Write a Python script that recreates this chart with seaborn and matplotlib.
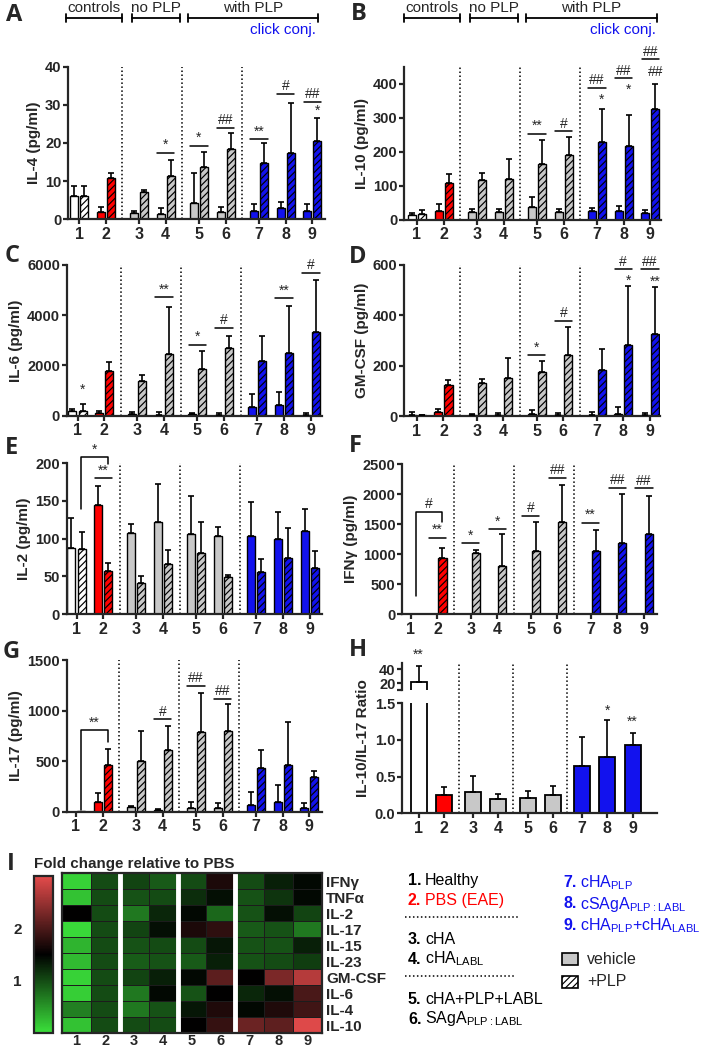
import numpy as np
import pandas as pd
import seaborn as sns
import matplotlib.pyplot as plt
from matplotlib.colors import LinearSegmentedColormap
from matplotlib.patches import Rectangle

# %% --------------------------------------------------------------------
# Data

groups = ['1', '2', '3', '4', '5', '6', '7', '8', '9']
section = [0, 0, 1, 1, 2, 2, 3, 3, 3]

il4_veh = [6.2, 1.8, 1.5, 1.4, 4.3, 1.9, 2.2, 2.9, 2.2]
il4_veh_sd = [2.6, 1.3, 0.7, 1.6, 7.7, 1.2, 1.8, 1.5, 1.8]
il4_plp = [6.0, 10.7, 7.2, 11.4, 13.6, 18.3, 14.8, 17.3, 20.5]
il4_plp_sd = [2.8, 1.3, 0.5, 4.0, 4.1, 4.2, 5.3, 13.3, 6.1]

il10_veh = [13, 26, 21, 21, 37, 21, 25, 25, 19]
il10_veh_sd = [7, 20, 11, 10, 30, 9, 10, 14, 9]
il10_plp = [17, 108, 115, 120, 162, 190, 228, 216, 325]
il10_plp_sd = [10, 27, 23, 57, 73, 52, 97, 91, 75]

il6_veh = [170, 95, 50, 20, 60, 40, 330, 440, 30]
il6_veh_sd = [85, 105, 85, 140, 60, 50, 520, 510, 70]
il6_plp = [200, 1780, 1390, 2470, 1850, 2710, 2170, 2500, 3330]
il6_plp_sd = [260, 345, 220, 1850, 710, 460, 990, 1880, 2080]

gmcsf_veh = [5, 14, 5, 3, 8, 3, 3, 8, 3]
gmcsf_veh_sd = [9, 14, 3, 9, 17, 9, 11, 26, 9]
gmcsf_plp = [2, 124, 130, 152, 176, 242, 183, 284, 324]
gmcsf_plp_sd = [1, 19, 16, 77, 43, 112, 82, 234, 189]

il2_veh = [88, 145, 108, 122, 106, 103, 103, 100, 110]
il2_veh_sd = [39, 25, 11, 51, 51, 12, 46, 36, 29]
il2_plp = [86, 57, 41, 67, 81, 49, 56, 74, 61]
il2_plp_sd = [23, 11, 9, 18, 41, 3, 17, 40, 22]

ifng_veh = [0, 8, 0, 0, 5, 0, 0, 8, 0]
ifng_veh_sd = [0, 0, 0, 0, 0, 0, 0, 0, 0]
ifng_plp = [0, 933, 1027, 810, 1055, 1538, 1055, 1183, 1333]
ifng_plp_sd = [0, 177, 40, 528, 483, 617, 350, 822, 639]

il17_veh = [0, 100, 50, 15, 33, 33, 67, 93, 33]
il17_veh_sd = [0, 83, 8, 10, 60, 50, 126, 172, 50]
il17_plp = [3, 464, 497, 606, 787, 802, 431, 457, 342]
il17_plp_sd = [0, 156, 298, 239, 388, 266, 184, 428, 56]

ratio = [22.3, 0.25, 0.29, 0.195, 0.21, 0.25, 0.645, 0.77, 0.93]
ratio_sd = [22.4, 0.11, 0.22, 0.065, 0.10, 0.12, 0.395, 0.50, 0.17]

# significance marks: (group, level, text)
il4_lines = [(4, 17.4, '*'), (5, 19.3, '*'), (6, 23.9, '##'), (7, 21.0, '**'), (8, 32.8, '#'), (9, 30.7, '##')]
il4_marks = [(9, 28.5, '*')]
il10_lines = [(5, 252, '**'), (6, 260, '#'), (7, 388, '##'), (8, 416, '##'), (9, 472, '##')]
il10_marks = [(7, 352, '*'), (8, 381, '*'), (9, 433, '##')]
il6_lines = [(4, 4710, '**'), (5, 2830, '*'), (6, 3490, '#'), (8, 4670, '**'), (9, 5700, '#')]
il6_marks = [(1, 1050, '*')]
gmcsf_lines = [(5, 242, '*'), (6, 377, '#'), (8, 583, '#'), (9, 583, '##')]
gmcsf_marks = [(8, 538, '*'), (9, 535, '**')]
il2_lines = [(2, 180, '**')]
il2_bracket = (208, 139, 199, '*')
ifng_lines = [(2, 1277, '**'), (3, 1183, '*'), (4, 1422, '*'), (5, 1638, '#'), (6, 2277, '##'),
              (7, 1528, '**'), (8, 2110, '##'), (9, 2100, '##')]
ifng_bracket = (1710, 305, 1540, '#')
il17_lines = [(4, 912, '#'), (5, 1243, '##'), (6, 1117, '##')]
il17_bracket = (806, 15, 687, '**')
ratio_marks_low = [(8, 1.40, '*'), (9, 1.25, '**')]

cytokines = ['IFNγ', 'TNFα', 'IL-2', 'IL-17', 'IL-15', 'IL-23', 'GM-CSF', 'IL-6', 'IL-4', 'IL-10']
fold_ifng = [0.10, 1.0, 1.05, 0.90, 1.0, 1.68, 1.0, 1.3, 1.45]
fold_tnfa = [0.20, 1.0, 0.95, 1.0, 1.2, 1.4, 0.95, 1.15, 1.45]
fold_il2 = [1.5, 1.0, 0.70, 1.25, 1.45, 0.82, 0.95, 1.4, 1.05]
fold_il17 = [0.05, 1.0, 1.05, 1.4, 1.68, 1.8, 0.9, 0.95, 0.70]
fold_il15 = [0.30, 1.0, 0.95, 1.0, 1.0, 1.35, 0.95, 0.95, 1.3]
fold_il23 = [0.25, 1.0, 0.88, 0.95, 0.9, 1.3, 0.95, 1.0, 1.1]
fold_gmcsf = [0.10, 1.0, 1.05, 1.3, 1.45, 2.1, 1.5, 2.3, 2.68]
fold_il6 = [0.12, 1.0, 0.70, 1.45, 0.95, 1.5, 1.25, 1.4, 1.98]
fold_il4 = [0.65, 1.0, 0.70, 0.95, 1.35, 1.7, 1.45, 1.7, 1.92]
fold_il10 = [0.20, 1.0, 1.0, 1.0, 1.5, 1.85, 2.2, 2.12, 2.95]

# %% --------------------------------------------------------------------
# Style

sns.set_style('ticks')
plt.rcParams['font.family'] = ['Liberation Sans', 'DejaVu Sans']
plt.rcParams['mathtext.fontset'] = 'custom'
plt.rcParams['mathtext.rm'] = 'Liberation Sans'
plt.rcParams['hatch.linewidth'] = 0.85

W, H = 703, 1050
UNIT = 29.1
RED, GREY, BLUE = '#FF0000', '#C8C8C8', '#1212EE'
bar_colors = ['white', RED, GREY, GREY, GREY, GREY, BLUE, BLUE, BLUE]
dotted = (0, (1, 1.6))

fig = plt.figure(figsize=(W / 100, H / 100), dpi=100)


def px_axes(x0, x1, y0, y1):
    return fig.add_axes([x0 / W, 1 - y1 / H, (x1 - x0) / W, (y1 - y0) / H])


pair_pos = [0.92 * i + 0.22 * s for i, s in enumerate(section)]
ratio_pos = [0.87 * i + 0.13 * s for i, s in enumerate(section)]


def style_axis(ax, box, off, ylim, yticks, ylabels, pos, ylabel=None, xlabels=True):
    x0, x1 = box[0], box[1]
    ax.set_xlim(-off / UNIT, (x1 - x0 - off) / UNIT)
    ax.set_ylim(*ylim)
    ax.set_yticks(yticks, labels=ylabels, fontweight='bold', fontsize=10.5)
    if xlabels:
        ax.set_xticks(pos, labels=groups, fontweight='bold', fontsize=11.5)
    ax.set_xlabel('')
    ax.set_ylabel(ylabel if ylabel else '', fontweight='bold', fontsize=11, labelpad=3)
    sns.despine(ax=ax)
    for s in ('left', 'bottom'):
        ax.spines[s].set_linewidth(1.6)
    ax.tick_params(width=1.6, length=3.5, pad=1.2)
    ax.tick_params(axis='x', pad=2)
    ax.patch.set_alpha(0)


def separators(ax, pos, ymax=1.0):
    for a, b in [(1, 2), (3, 4), (5, 6)]:
        ax.axvline((pos[a] + pos[b]) / 2, ymin=0, ymax=ymax, color='black', ls=dotted,
                   lw=1.1, zorder=0, clip_on=False)


def sig_line(ax, pos, g, y, txt):
    x = pos[g - 1]
    ax.plot([x - 0.3, x + 0.3], [y, y], color='black', lw=1.1, clip_on=False)
    ax.annotate(txt, (x, y), xytext=(0, 0.5), textcoords='offset points', ha='center',
                va='bottom', fontsize=10, annotation_clip=False)


def sig_mark(ax, pos, g, y, txt, dx=0.17):
    ax.text(pos[g - 1] + dx, y, txt, ha='center', va='center', fontsize=10, clip_on=False)


def bracket(ax, pos, spec):
    top, yl, yr, txt = spec
    xl, xr = pos[0] + 0.17, pos[1] + 0.17
    ax.plot([xl, xl, xr, xr], [yl, top, top, yr], color='black', lw=1.1, clip_on=False)
    ax.annotate(txt, ((xl + xr) / 2, top), xytext=(0, 0.5), textcoords='offset points',
                ha='center', va='bottom', fontsize=10, annotation_clip=False)


def pair_panel(box, off, veh, veh_sd, plp, plp_sd, ylim, yticks, ylabel, lines=(), marks=(), brk=None):
    ax = px_axes(*box)
    df = pd.DataFrame({'pos': pair_pos + pair_pos, 'value': veh + plp,
                       'kind': ['vehicle'] * 9 + ['+PLP'] * 9})
    sns.barplot(data=df, x='pos', y='value', hue='kind', hue_order=['vehicle', '+PLP'],
                native_scale=True, width=0.75, gap=0.2, errorbar=None, legend=False, ax=ax)
    bars = sorted(ax.patches, key=lambda p: p.get_x())
    for i, bar in enumerate(bars):
        bar.set_facecolor(bar_colors[i // 2])
        bar.set_edgecolor('black')
        bar.set_linewidth(1.0)
        if i % 2:
            bar.set_hatch('/////')
    cx = np.array([b.get_x() + b.get_width() / 2 for b in bars])
    val = np.array([b.get_height() for b in bars])
    sd = np.array([v for pair in zip(veh_sd, plp_sd) for v in pair], float)
    keep = sd > 0
    ax.errorbar(cx[keep], val[keep], yerr=[np.zeros(keep.sum()), sd[keep]], fmt='none',
                ecolor='black', elinewidth=1.2, capsize=2.5, capthick=1.2, zorder=3)
    style_axis(ax, box, off, ylim, yticks, [f'{t:g}' for t in yticks], pair_pos, ylabel)
    separators(ax, pair_pos)
    for g, y, t in lines:
        sig_line(ax, pair_pos, g, y, t)
    for g, y, t in marks:
        sig_mark(ax, pair_pos, g, y, t)
    if brk:
        bracket(ax, pair_pos, brk)
    return ax


# %% --------------------------------------------------------------------
# Bar panels

pair_panel((68, 325, 66.7, 219.2), 11, il4_veh, il4_veh_sd, il4_plp, il4_plp_sd,
           (0, 40), [0, 10, 20, 30, 40], 'IL-4 (pg/ml)', il4_lines, il4_marks)
pair_panel((404, 661, 66.7, 219.5), 13, il10_veh, il10_veh_sd, il10_plp, il10_plp_sd,
           (0, 450), [0, 100, 200, 300, 400], 'IL-10 (pg/ml)', il10_lines, il10_marks)
pair_panel((66.5, 322, 265, 415.7), 11, il6_veh, il6_veh_sd, il6_plp, il6_plp_sd,
           (0, 6000), [0, 2000, 4000, 6000], 'IL-6 (pg/ml)', il6_lines, il6_marks)
pair_panel((404, 660, 265, 416), 12.7, gmcsf_veh, gmcsf_veh_sd, gmcsf_plp, gmcsf_plp_sd,
           (0, 600), [0, 200, 400, 600], 'GM-CSF (pg/ml)', gmcsf_lines, gmcsf_marks)
pair_panel((66.5, 322, 463.3, 614), 10, il2_veh, il2_veh_sd, il2_plp, il2_plp_sd,
           (0, 200), [0, 50, 100, 150, 200], 'IL-2 (pg/ml)', il2_lines, (), il2_bracket)
pair_panel((402, 657, 464.3, 614.3), 8.7, ifng_veh, ifng_veh_sd, ifng_plp, ifng_plp_sd,
           (0, 2500), [0, 500, 1000, 1500, 2000, 2500], 'IFNγ (pg/ml)', ifng_lines, (), ifng_bracket)
pair_panel((66.5, 322, 660, 811.7), 9.5, il17_veh, il17_veh_sd, il17_plp, il17_plp_sd,
           (0, 1500), [0, 500, 1000, 1500], 'IL-17 (pg/ml)', il17_lines, (), il17_bracket)

# %% --------------------------------------------------------------------
# H: IL-10/IL-17 ratio with broken axis

box_hi = (402, 657, 662.7, 690)
box_lo = (402, 657, 703.3, 813.3)
ax_hi = px_axes(*box_hi)
ax_lo = px_axes(*box_lo)
ratio_df = pd.DataFrame({'pos': ratio_pos, 'ratio': ratio})
for ax in (ax_hi, ax_lo):
    sns.barplot(data=ratio_df, x='pos', y='ratio', native_scale=True, width=0.63,
                errorbar=None, color='white', ax=ax)
    bars = sorted(ax.patches, key=lambda p: p.get_x())
    for i, bar in enumerate(bars):
        bar.set_facecolor(bar_colors[i])
        bar.set_edgecolor('black')
        bar.set_linewidth(1.3)
    cx = [b.get_x() + b.get_width() / 2 for b in bars]
    ax.errorbar(cx, ratio, yerr=[np.zeros(9), ratio_sd], fmt='none', ecolor='black',
                elinewidth=1.2, capsize=2.5, capthick=1.2, zorder=3)

style_axis(ax_lo, box_lo, 16.7, (0, 1.5), [0, 0.5, 1.0, 1.5], ['0.0', '0.5', '1.0', '1.5'], ratio_pos)
style_axis(ax_hi, box_hi, 16.7, (10.4, 49.4), [10.4, 20, 40], ['', '20', '40'], ratio_pos, xlabels=False)
ax_hi.spines['bottom'].set_visible(False)
ax_hi.set_xticks([])
separators(ax_lo, ratio_pos, ymax=(813.3 - 662.7) / 110)
for g, y, t in ratio_marks_low:
    sig_mark(ax_lo, ratio_pos, g, y, t, dx=0)
sig_mark(ax_hi, ratio_pos, 1, 60.4, '**', dx=0)

# %% --------------------------------------------------------------------
# I: heatmap

fold = pd.DataFrame([fold_ifng, fold_tnfa, fold_il2, fold_il17, fold_il15, fold_il23,
                     fold_gmcsf, fold_il6, fold_il4, fold_il10], index=cytokines, columns=groups)
cmap = LinearSegmentedColormap.from_list('fold', ['#3BE03B', '#000000', '#E54B4B'])
ax_hm = px_axes(62, 322, 873.3, 1033)
cax = px_axes(34.3, 52.7, 875.7, 1033)
sns.heatmap(fold, ax=ax_hm, cbar_ax=cax, cmap=cmap, vmin=0, vmax=3, linewidths=0.4,
            linecolor='#1c1c1c', cbar_kws={'ticks': [1, 2]})
ax_hm.yaxis.tick_right()
ax_hm.set_yticklabels(cytokines, rotation=0, fontweight='bold', fontsize=11)
ax_hm.set_xticklabels(groups, fontweight='bold', fontsize=10.5)
ax_hm.tick_params(axis='y', length=0, pad=3)
ax_hm.tick_params(axis='x', length=0, pad=0.5)
for x in (2, 4, 6):
    ax_hm.axvline(x, color='white', lw=3.5)
for s in ax_hm.spines.values():
    s.set_visible(True)
    s.set_linewidth(1.6)
cbar = ax_hm.collections[0].colorbar
cbar.outline.set_linewidth(1.6)
cax.yaxis.set_ticks_position('left')
cax.tick_params(length=0, pad=9)
cax.set_yticklabels(['1', '2'], fontweight='bold', fontsize=11)

# %% --------------------------------------------------------------------
# Texts, headers and legend

ov = fig.add_axes([0, 0, 1, 1], zorder=10)
ov.set_xlim(0, W)
ov.set_ylim(H, 0)
ov.axis('off')

for lab, x, y in [('A', 6, 15), ('B', 351, 14), ('C', 5, 255.5), ('D', 349, 257),
                  ('E', 5, 448.5), ('F', 349, 445.5), ('G', 3, 652.5), ('H', 349, 650.5),
                  ('I', 7, 864)]:
    ov.text(x, y, lab, fontsize=17, fontweight='bold', family=['Open Sans', 'DejaVu Sans'],
            ha='left', va='center')

for spans, conj_x in [([(66, 122, 'controls'), (132, 180, 'no PLP'), (188, 318, 'with PLP')], 316),
                      ([(404, 460, 'controls'), (470, 518, 'no PLP'), (526, 657, 'with PLP')], 656)]:
    for a, b, t in spans:
        ov.plot([a, b], [18, 18], color='black', lw=1.3)
        ov.plot([a, a], [14, 22], color='black', lw=1.3)
        ov.plot([b, b], [14, 22], color='black', lw=1.3)
        ov.text((a + b) / 2, 12, t, fontsize=11, ha='center', va='baseline')
    ov.text(conj_x, 34, 'click conj.', fontsize=11, color=BLUE, ha='right', va='baseline')

fig.text(363 / W, 1 - 738 / H, 'IL-10/IL-17 Ratio', rotation=90, fontsize=11,
         fontweight='bold', ha='center', va='center')
ov.text(34, 864, 'Fold change relative to PBS', fontsize=10.9, fontweight='bold',
        ha='left', va='center')

legend_left = [('1.', 'Healthy', 'black', 885), ('2.', 'PBS (EAE)', RED, 905),
               ('3.', 'cHA', 'black', 943.5), ('4.', 'cHA$_{\\mathregular{LABL}}$', 'black', 963.5),
               ('5.', 'cHA+PLP+LABL', 'black', 1004.5), ('6.', 'SAgA$_{\\mathregular{PLP:LABL}}$', 'black', 1023.5)]
for num, txt, col, y in legend_left:
    ov.text(408, y, num, fontsize=11.5, fontweight='bold', color=col, va='baseline')
    ov.text(425, y, txt, fontsize=11.5, color=col, va='baseline')
legend_right = [('7.', 'cHA$_{\\mathregular{PLP}}$', 887),
                ('8.', 'cSAgA$_{\\mathregular{PLP:LABL}}$', 908.5),
                ('9.', 'cHA$_{\\mathregular{PLP}}$+cHA$_{\\mathregular{LABL}}$', 930)]
for num, txt, y in legend_right:
    ov.text(563, y, num, fontsize=11.5, fontweight='bold', color=BLUE, va='baseline')
    ov.text(580, y, txt, fontsize=11.5, color=BLUE, va='baseline')
for y, x1 in [(916.7, 518), (975.7, 516)]:
    ov.plot([405, x1], [y, y], color='black', ls=dotted, lw=1.1)
ov.add_patch(Rectangle((562, 953), 15.5, 12, facecolor=GREY, edgecolor='black', lw=1.2))
ov.add_patch(Rectangle((562, 975.5), 15.5, 12, facecolor='white', edgecolor='black', lw=1.2,
                       hatch='/////'))
ov.text(587, 963.5, 'vehicle', fontsize=11.5, va='baseline')
ov.text(587, 986, '+PLP', fontsize=11.5, va='baseline')

fig.savefig('out.png', dpi=100)
